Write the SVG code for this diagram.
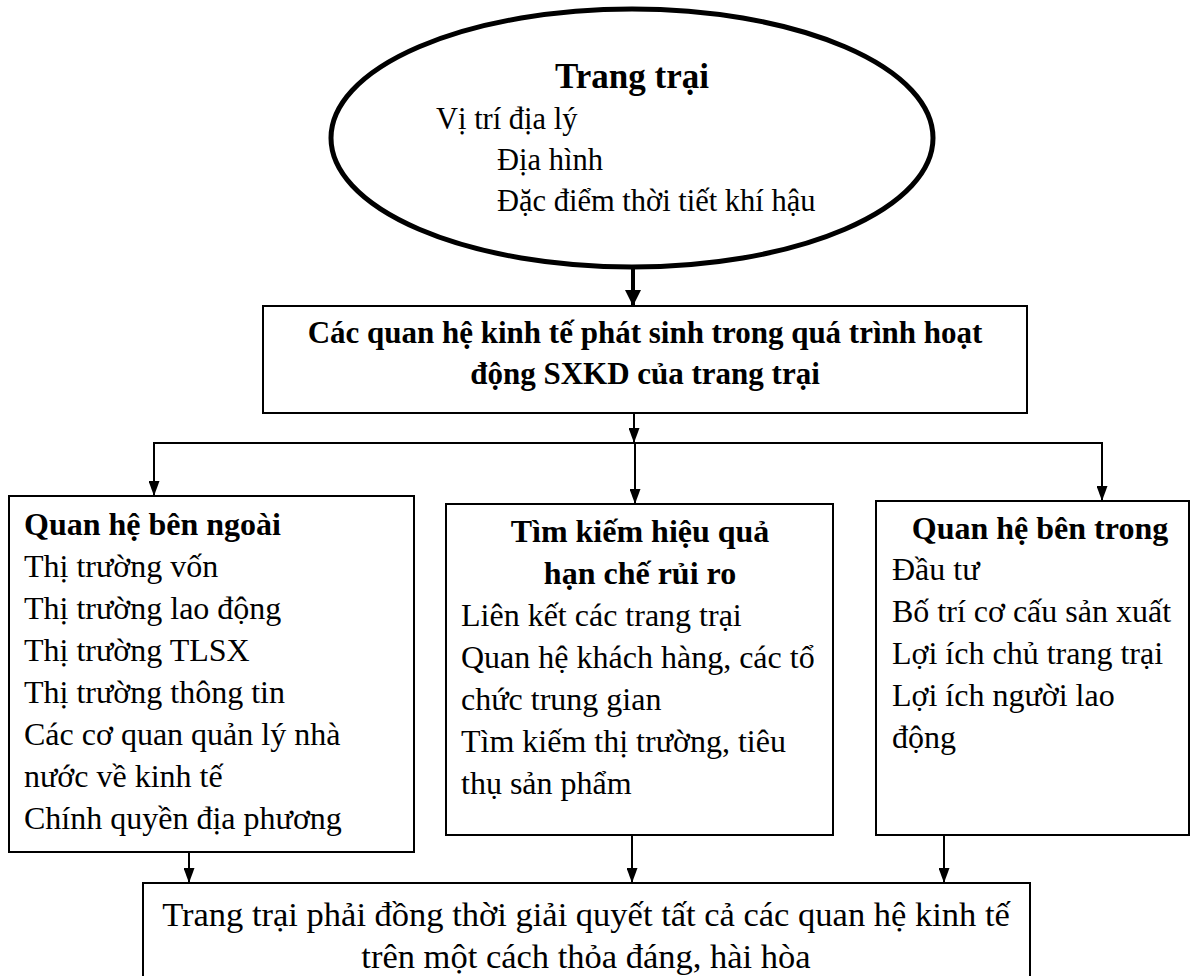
<svg xmlns="http://www.w3.org/2000/svg" width="1194" height="976" viewBox="0 0 1194 976">
<defs>
<style>
.t{font-family:"Liberation Serif","Times New Roman",serif;font-size:32px;fill:#000}
.b{font-weight:bold}
.m{text-anchor:middle}
.e{font-size:30.5px}
.box{fill:#fff;stroke:#000;stroke-width:2}
.ln{fill:none;stroke:#000;stroke-width:2}
</style>
<marker id="ah" markerWidth="15" markerHeight="11" refX="15" refY="5.5" orient="auto" markerUnits="userSpaceOnUse" viewBox="0 0 15 11">
<path d="M0,0 L15,5.5 L0,11 Z" fill="#000"/>
</marker>
<marker id="ahb" markerWidth="16" markerHeight="16" refX="16" refY="8" orient="auto" markerUnits="userSpaceOnUse" viewBox="0 0 16 16">
<path d="M0,0 L16,8 L0,16 Z" fill="#000"/>
</marker>
</defs>
<rect width="1194" height="976" fill="#fff"/>

<g id="connectors">
<line x1="633" y1="267" x2="633" y2="306" stroke="#000" stroke-width="4" marker-end="url(#ahb)"/>
<line class="ln" x1="634" y1="413" x2="634" y2="443" marker-end="url(#ah)"/>
<line class="ln" x1="153" y1="443" x2="1103" y2="443"/>
<line class="ln" x1="154" y1="443" x2="154" y2="496" marker-end="url(#ah)"/>
<line class="ln" x1="635" y1="443" x2="635" y2="504" marker-end="url(#ah)"/>
<line class="ln" x1="1102" y1="443" x2="1102" y2="501" marker-end="url(#ah)"/>
<line class="ln" x1="189" y1="852" x2="189" y2="883" marker-end="url(#ah)"/>
<line class="ln" x1="632" y1="835" x2="632" y2="883" marker-end="url(#ah)"/>
<line class="ln" x1="944" y1="835" x2="944" y2="883" marker-end="url(#ah)"/>
</g>

<g id="trang-trai">
<ellipse cx="632" cy="138" rx="301" ry="129" fill="#fff" stroke="#000" stroke-width="5"/>
<text class="t b m" x="632" y="88" style="font-size:35px">Trang trại</text>
<text class="t e" x="436" y="129">Vị trí địa lý</text>
<text class="t e" x="497" y="170">Địa hình</text>
<text class="t e" x="497" y="211">Đặc điểm thời tiết khí hậu</text>
</g>

<g id="quan-he-kinh-te">
<rect class="box" x="263" y="306" width="764" height="107"/>
<text class="t b m" x="645" y="343" style="font-size:31px">Các quan hệ kinh tế phát sinh trong quá trình hoạt</text>
<text class="t b m" x="645" y="384" style="font-size:31px">động SXKD của trang trại</text>
</g>

<g id="quan-he-ben-ngoai">
<rect class="box" x="9" y="496" width="405" height="356"/>
<text class="t b" x="24" y="535">Quan hệ bên ngoài</text>
<text class="t" x="24" y="577">Thị trường vốn</text>
<text class="t" x="24" y="619">Thị trường lao động</text>
<text class="t" x="24" y="661">Thị trường TLSX</text>
<text class="t" x="24" y="703">Thị trường thông tin</text>
<text class="t" x="24" y="745">Các cơ quan quản lý nhà</text>
<text class="t" x="24" y="787">nước về kinh tế</text>
<text class="t" x="24" y="829">Chính quyền địa phương</text>
</g>

<g id="tim-kiem-hieu-qua">
<rect class="box" x="446" y="504" width="387" height="331"/>
<text class="t b m" x="640" y="542">Tìm kiếm hiệu quả</text>
<text class="t b m" x="640" y="584">hạn chế rủi ro</text>
<text class="t" x="461" y="626">Liên kết các trang trại</text>
<text class="t" x="461" y="668">Quan hệ khách hàng, các tổ</text>
<text class="t" x="461" y="710">chức trung gian</text>
<text class="t" x="461" y="752">Tìm kiếm thị trường, tiêu</text>
<text class="t" x="461" y="794">thụ sản phẩm</text>
</g>

<g id="quan-he-ben-trong">
<rect class="box" x="876" y="501" width="313" height="334"/>
<text class="t b m" x="1040" y="539">Quan hệ bên trong</text>
<text class="t" x="892" y="580">Đầu tư</text>
<text class="t" x="892" y="622">Bố trí cơ cấu sản xuất</text>
<text class="t" x="892" y="664">Lợi ích chủ trang trại</text>
<text class="t" x="892" y="706">Lợi ích người lao</text>
<text class="t" x="892" y="748">động</text>
</g>

<g id="ket-luan">
<rect class="box" x="143" y="883" width="887" height="110"/>
<text class="t m" x="586" y="926" style="font-size:34.5px">Trang trại phải đồng thời giải quyết tất cả các quan hệ kinh tế</text>
<text class="t m" x="586" y="968" style="font-size:34.5px">trên một cách thỏa đáng, hài hòa</text>
</g>
</svg>
